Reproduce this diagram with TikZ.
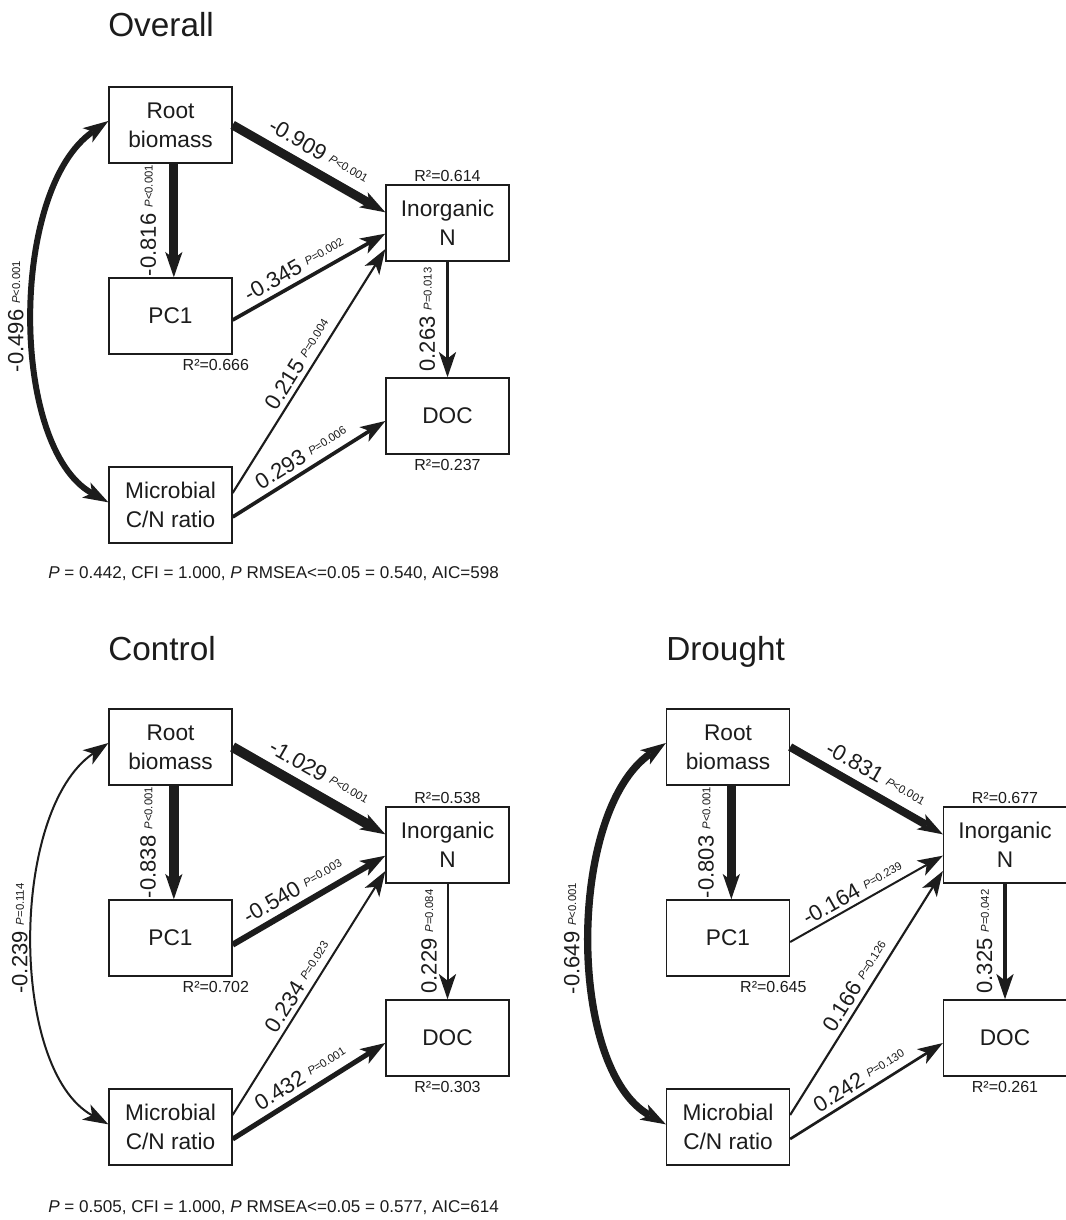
\documentclass[tikz,border=0pt]{standalone}
\usepackage{fontspec}
\setmainfont{Liberation Sans}
\usetikzlibrary{arrows.meta, positioning}
\definecolor{inkgray}{HTML}{1C1C1C}
\newcommand\titlefont{\fontsize{25}{30}\selectfont}
\newcommand\boxfont{\fontsize{17}{21.5}\selectfont}
\newcommand\coeffont{\fontsize{16.5}{20}\selectfont}
\newcommand\rsqfont{\fontsize{12}{14}\selectfont}
\newcommand\fitfont{\fontsize{12.8}{15}\selectfont}
\newcommand\pval[1]{\raisebox{2.5pt}{\fontsize{8.5}{10}\selectfont\textit{P}#1}}
\tikzset{
  varbox/.style={
    rectangle, draw=inkgray, line width=1.2pt, text=inkgray,
    minimum width=92pt, minimum height=57pt, inner sep=0pt,
    align=center, font=\boxfont
  },
  paneltitle/.style={anchor=base west, inner sep=0pt, text=inkgray,
    font=\titlefont},
  rsq/.style={inner sep=1pt, text=inkgray, font=\rsqfont},
  fitline/.style={anchor=west, inner sep=0pt, text=inkgray, font=\fitfont},
  semarrow/.style={draw=inkgray, line width=#1,
    -{Stealth[length=19pt, width=13pt, inset=5pt, line width=0pt]}},
  corarrow/.style={draw=inkgray, line width=#1,
    {Stealth[length=19pt, width=13pt, inset=5pt, line width=0pt]}-%
    {Stealth[length=19pt, width=13pt, inset=5pt, line width=0pt]}},
  coef/.style={sloped, above=#1, inner sep=0pt, text=inkgray,
    font=\coeffont},
  vcoef/.style={rotate=90, anchor=south, inner sep=#1, text=inkgray,
    font=\coeffont}
}
\begin{document}
\begin{tikzpicture}[x=0.75pt, y=-0.75pt]
  \useasboundingbox (0,0) rectangle (1066,1220);
  \fill[white] (0,0) rectangle (1066,1220);

  % Overall
  \node[paneltitle] (otitle) at (108,37) {Overall};
  \node[varbox] (orb) at (170.5,125) {Root\\biomass};
  \node[varbox] (opc) at (170.5,316) {PC1};
  \node[varbox] (omc) at (170.5,505) {Microbial\\C/N ratio};
  \node[varbox] (oin) at (447.5,223) {Inorganic\\N};
  \node[varbox] (odoc) at (447.5,416) {DOC};
  \node[rsq, above=1pt of oin] (oinr) {R²=0.614};
  \node[rsq, below=2pt of opc, xshift=34pt] (opcr) {R²=0.666};
  \node[rsq, below=2pt of odoc] (odocr) {R²=0.237};
  \draw[semarrow=6.75pt] (orb.east) --
    node[coef=5.9pt, pos=0.5] {-0.909 \pval{<0.001}} ([yshift=8pt]oin.west);
  \draw[semarrow=6.75pt] ([xshift=2.5pt]orb.south) --
    node[vcoef=9.9pt, midway] {-0.816 \pval{<0.001}} ([xshift=2.5pt]opc.north);
  \draw[semarrow=2.75pt] ([yshift=-3pt]opc.east) --
    node[coef=3.9pt, pos=0.45] {-0.345 \pval{=0.002}} ([yshift=-8pt]oin.west);
  \draw[semarrow=1.6pt] ([yshift=9pt]omc.east) --
    node[coef=3.3pt, midway] {0.215 \pval{=0.004}} ([yshift=-19.5pt]oin.west);
  \draw[semarrow=2.75pt] ([yshift=-9pt]omc.east) --
    node[coef=3.9pt, midway] {0.293 \pval{=0.006}} ([yshift=-3.75pt]odoc.west);
  \draw[semarrow=2.75pt] (oin.south) --
    node[vcoef=7.9pt, midway] {0.263 \pval{=0.013}} (odoc.north);
  \draw[corarrow=4.5pt] ([yshift=3pt]orb.west)
    .. controls +(-99,68) and +(-99,-55) ..
    node[vcoef=5.6pt, pos=0.5] {-0.496 \pval{<0.001}} ([yshift=2pt]omc.west);
  \node[fitline] (ofit) at (48,574)
    {\textit{P} = 0.442, CFI = 1.000, \textit{P} RMSEA<=0.05 = 0.540, AIC=598};

  % Control
  \begin{scope}[shift={(0,622)}]
  \node[paneltitle] (ctitle) at (108,38) {Control};
  \node[varbox] (crb) at (170.5,125) {Root\\biomass};
  \node[varbox] (cpc) at (170.5,316) {PC1};
  \node[varbox] (cmc) at (170.5,505) {Microbial\\C/N ratio};
  \node[varbox] (cin) at (447.5,223) {Inorganic\\N};
  \node[varbox] (cdoc) at (447.5,416) {DOC};
  \node[rsq, above=1pt of cin] (cinr) {R²=0.538};
  \node[rsq, below=2pt of cpc, xshift=34pt] (cpcr) {R²=0.702};
  \node[rsq, below=2pt of cdoc] (cdocr) {R²=0.303};
  \draw[semarrow=7.5pt] (crb.east) --
    node[coef=6.2pt, pos=0.5] {-1.029 \pval{<0.001}} ([yshift=8pt]cin.west);
  \draw[semarrow=7pt] ([xshift=2.5pt]crb.south) --
    node[vcoef=10pt, midway] {-0.838 \pval{<0.001}} ([xshift=2.5pt]cpc.north);
  \draw[semarrow=4.5pt] ([yshift=-5pt]cpc.east) --
    node[coef=4.7pt, pos=0.45] {-0.540 \pval{=0.003}} ([yshift=-8pt]cin.west);
  \draw[semarrow=1.5pt] ([yshift=9pt]cmc.east) --
    node[coef=3.2pt, midway] {0.234 \pval{=0.023}} ([yshift=-19.5pt]cin.west);
  \draw[semarrow=3.75pt] ([yshift=-9pt]cmc.east) --
    node[coef=4.4pt, midway] {0.432 \pval{=0.001}} ([yshift=-3.75pt]cdoc.west);
  \draw[semarrow=1.5pt] (cin.south) --
    node[vcoef=7.3pt, midway] {0.229 \pval{=0.084}} (cdoc.north);
  \draw[corarrow=1.5pt] ([yshift=3pt]crb.west)
    .. controls +(-99,68) and +(-99,-55) ..
    node[vcoef=4.2pt, pos=0.5] {-0.239 \pval{=0.114}} ([yshift=2pt]cmc.west);
  \node[fitline] (cfit) at (48,586)
    {\textit{P} = 0.505, CFI = 1.000, \textit{P} RMSEA<=0.05 = 0.577, AIC=614};
  \end{scope}

  % Drought
  \begin{scope}[shift={(557.5,622)}]
  \node[paneltitle] (dtitle) at (108.5,38) {Drought};
  \node[varbox] (drb) at (170.5,125) {Root\\biomass};
  \node[varbox] (dpc) at (170.5,316) {PC1};
  \node[varbox] (dmc) at (170.5,505) {Microbial\\C/N ratio};
  \node[varbox] (din) at (447.5,223) {Inorganic\\N};
  \node[varbox] (ddoc) at (447.5,416) {DOC};
  \node[rsq, above=1pt of din] (dinr) {R²=0.677};
  \node[rsq, below=2pt of dpc, xshift=34pt] (dpcr) {R²=0.645};
  \node[rsq, below=2pt of ddoc] (ddocr) {R²=0.261};
  \draw[semarrow=6pt] (drb.east) --
    node[coef=5.5pt, pos=0.5] {-0.831 \pval{<0.001}} ([yshift=8pt]din.west);
  \draw[semarrow=6.5pt] ([xshift=2.5pt]drb.south) --
    node[vcoef=9.8pt, midway] {-0.803 \pval{<0.001}} ([xshift=2.5pt]dpc.north);
  \draw[semarrow=1.5pt] ([yshift=-3pt]dpc.east) --
    node[coef=3.2pt, pos=0.45] {-0.164 \pval{=0.239}} ([yshift=-8pt]din.west);
  \draw[semarrow=1.6pt] ([yshift=9pt]dmc.east) --
    node[coef=3.3pt, midway] {0.166 \pval{=0.126}} ([yshift=-19.5pt]din.west);
  \draw[semarrow=2pt] ([yshift=-9pt]dmc.east) --
    node[coef=3.5pt, midway] {0.242 \pval{=0.130}} ([yshift=-3.75pt]ddoc.west);
  \draw[semarrow=3pt] (din.south) --
    node[vcoef=8pt, midway] {0.325 \pval{=0.042}} (ddoc.north);
  \draw[corarrow=5.5pt] ([yshift=3pt]drb.west)
    .. controls +(-99,68) and +(-99,-55) ..
    node[vcoef=6.2pt, pos=0.5] {-0.649 \pval{<0.001}} ([yshift=2pt]dmc.west);
  \end{scope}
\end{tikzpicture}
\end{document}
